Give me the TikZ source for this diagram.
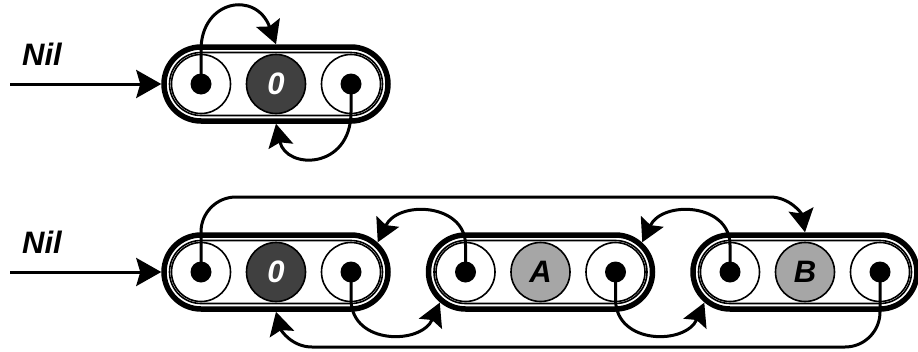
\documentclass[tikz,border=0pt]{standalone}
\usepackage{fontspec}
\setmainfont{Liberation Sans}
\usetikzlibrary{arrows.meta,calc}
\definecolor{darkcell}{HTML}{404040}
\definecolor{lightcell}{HTML}{A6A6A6}
\begin{document}
\begin{tikzpicture}[x=1pt,y=1pt,
 capout/.style={draw,line width=5.5pt,rounded corners=37pt,minimum width=224pt,minimum height=74pt,inner sep=0pt},
 capin/.style={draw,line width=1.6pt,rounded corners=31.5pt,minimum width=213pt,minimum height=63pt,inner sep=0pt},
 cell/.style={draw,circle,line width=1.6pt,minimum size=59pt,inner sep=0pt},
 dotn/.style={circle,fill=black,minimum size=21pt,inner sep=0pt},
 lbl/.style={font=\fontsize{31}{31}\selectfont\bfseries\itshape},
 darkc/.style={cell,fill=darkcell,text=white,lbl},
 lightc/.style={cell,fill=lightcell,text=black,lbl},
 conn/.style={line width=3pt,-{Stealth[length=23pt,width=25pt,inset=4pt]}},
 inarrow/.style={line width=3pt,-{Stealth[length=25pt,width=28pt,inset=4pt]}}]
\useasboundingbox (0,0) rectangle (918,-351);

% ---------- top row ----------
\node[lbl] (nil1) at (42,-54) {Nil};
\node[capout] (c1) at (276,-84) {};
\node[capin] (c1i) at (c1) {};
\node[cell] (t1) at (201,-84) {};
\node[dotn] (d1) at (t1) {};
\node[darkc] (t2) at (276,-84) {0};
\node[cell] (t3) at (351,-84) {};
\node[dotn] (d3) at (t3) {};
\coordinate (in1) at (10,-84);
\draw[inarrow] (in1) -- (c1.west);
\draw[conn] (d1.center) -- (201,-50) .. controls (201,0) and (256,10) .. (c1.north);
\draw[conn] (d3.center) -- (351,-112) .. controls (351,-170) and (286,-170) .. (c1.south);

% ---------- bottom row ----------
\node[lbl] (nil2) at (42,-242) {Nil};
\node[capout] (k1) at (276,-272) {};
\node[capin] (k1i) at (k1) {};
\node[capout] (k2) at (540.5,-272) {};
\node[capin] (k2i) at (k2) {};
\node[capout] (k3) at (805,-272) {};
\node[capin] (k3i) at (k3) {};

\node[cell] (p11) at (201,-272) {};
\node[dotn] (b11) at (p11) {};
\node[darkc] (p12) at (276,-272) {0};
\node[cell] (p13) at (351,-272) {};
\node[dotn] (b13) at (p13) {};

\node[cell] (p21) at (465.5,-272) {};
\node[dotn] (b21) at (p21) {};
\node[lightc] (p22) at (540.5,-272) {A};
\node[cell] (p23) at (615.5,-272) {};
\node[dotn] (b23) at (p23) {};

\node[cell] (p31) at (730,-272) {};
\node[dotn] (b31) at (p31) {};
\node[lightc] (p32) at (805,-272) {B};
\node[cell] (p33) at (880,-272) {};
\node[dotn] (b33) at (p33) {};

\coordinate (in2) at (10,-272);
\draw[inarrow] (in2) -- (k1.west);

\draw[conn] (b11.center) -- (201,-232) to[out=90,in=180] (236,-197) -- (770,-197) to[out=0,in=100] (k3.north);
\draw[conn] (b13.center) -- (351,-300) .. controls (352,-345) and (421,-345) .. ($(b21)+(230:40)$);
\draw[conn] (b21.center) -- (465.5,-245) .. controls (465.5,-203) and (398,-200) .. ($(b13)+(48:40)$);
\draw[conn] (b23.center) -- (615.5,-300) .. controls (616.5,-345) and (685.5,-345) .. ($(b31)+(230:40)$);
\draw[conn] (b31.center) -- (730,-245) .. controls (730,-203) and (662.5,-200) .. ($(b23)+(48:40)$);
\draw[conn] (b33.center) -- (880,-312) to[out=-90,in=0] (845,-347) -- (312,-347) to[out=180,in=-75] (k1.south);
\end{tikzpicture}
\end{document}
